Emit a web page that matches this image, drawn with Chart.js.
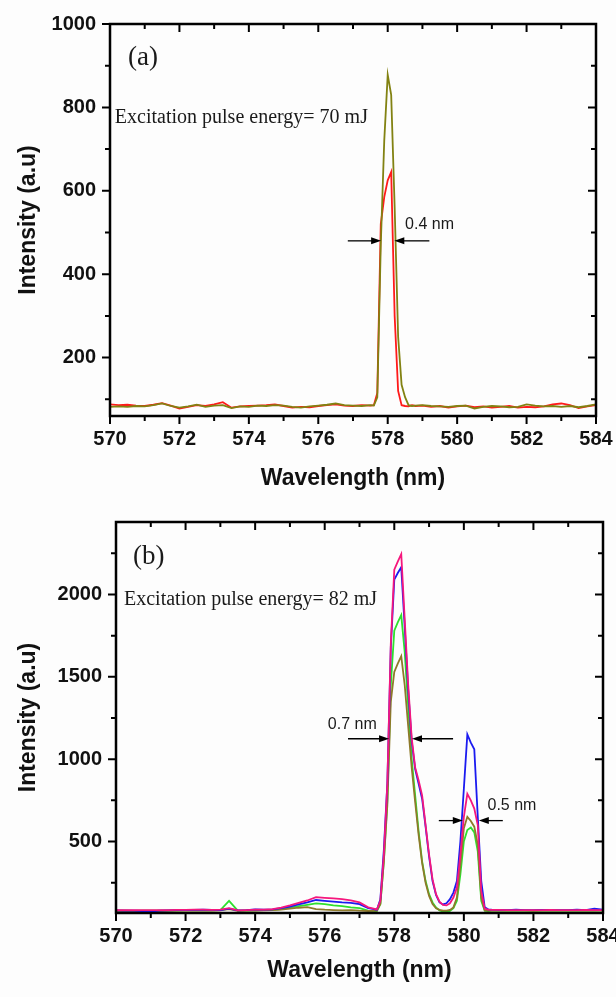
<!DOCTYPE html>
<html>
<head>
<meta charset="utf-8">
<title>Emission spectra</title>
<script src="https://cdn.jsdelivr.net/npm/chart.js@4.4.1/dist/chart.umd.min.js"></script>
<style>
  html, body { margin: 0; padding: 0; background: #fdfdfd; }
  #wrap { position: relative; width: 616px; height: 997px; }
  canvas { position: absolute; left: 0; }
  #spectrumA { top: 0; }
  #spectrumB { top: 498px; }
</style>
</head>
<body>
<div id="wrap">
  <canvas id="spectrumA" width="616" height="498"></canvas>
  <canvas id="spectrumB" width="616" height="499"></canvas>
</div>
<script>
// (a) 70 mJ pump
const wavelengthA = [570, 570.25, 570.5, 570.75, 571, 571.25, 571.5, 571.75, 572, 572.25, 572.5, 572.75,
  573, 573.25, 573.5, 573.75, 574, 574.25, 574.5, 574.75, 575, 575.25, 575.5, 575.75, 576, 576.25,
  576.5, 576.75, 577, 577.25, 577.5,
  577.6, 577.7, 577.8, 577.9, 578, 578.1, 578.2, 578.3, 578.4, 578.5, 578.6, 578.7, 578.8,
  579, 579.25, 579.5, 579.75, 580, 580.25, 580.5, 580.75, 581, 581.25, 581.5, 581.75, 582, 582.25,
  582.5, 582.75, 583, 583.25, 583.5, 583.75, 584];
const red70 = [88, 86, 87, 85, 84, 87, 91, 85, 78, 82, 86, 84, 88, 93, 80, 83, 84, 85, 86, 88,
  84, 80, 82, 81, 84, 86, 88, 85, 84, 86, 85,
  86, 115, 520, 585, 625, 645, 300, 120, 86, 84, 83, 86, 84,
  85, 82, 84, 80, 83, 85, 81, 83, 80, 82, 84, 80, 82, 81, 83, 88, 90, 86, 79, 83, 86];
const olive70 = [82, 83, 82, 84, 83, 86, 90, 84, 80, 83, 87, 82, 85, 86, 79, 83, 82, 85, 84, 86,
  85, 82, 80, 83, 85, 87, 90, 86, 85, 84, 86,
  85, 105, 470, 720, 878, 830, 560, 250, 135, 105, 86, 84, 85,
  86, 84, 83, 82, 84, 85, 78, 82, 84, 83, 81, 82, 88, 85, 83, 84, 82, 84, 81, 84, 88];

// (b) 82 mJ pump
const wavelengthB = [570, 570.25, 570.5, 570.75, 571, 571.25, 571.5, 571.75, 572, 572.25, 572.5, 572.75,
  573, 573.25, 573.5, 573.75, 574, 574.25, 574.5, 574.75, 575, 575.25, 575.5, 575.75, 576, 576.25,
  576.5, 576.75, 577, 577.25, 577.5,
  577.6, 577.7, 577.8, 577.9, 578, 578.1, 578.2, 578.3, 578.4, 578.5, 578.6, 578.7, 578.8, 578.9,
  579, 579.1, 579.2, 579.3, 579.4, 579.5, 579.6, 579.7, 579.8, 579.9, 580, 580.1, 580.2, 580.3,
  580.4, 580.5, 580.6, 580.7, 580.8,
  581, 581.25, 581.5, 581.75, 582, 582.25, 582.5, 582.75, 583, 583.25, 583.5, 583.75, 584];
const pink82 = [84, 84, 83, 84, 83, 84, 84, 85, 85, 86, 86, 85, 86, 95, 82, 84, 86, 87, 90, 98,
  112, 128, 142, 162, 158, 155, 150, 143, 130, 100, 88,
  140, 420, 850, 1700, 2150, 2200, 2245, 1850, 1450, 1130, 950, 870, 780, 600, 420, 270, 180, 135,
  115, 112, 125, 160, 220, 420, 650, 790, 750, 700, 600, 200, 92, 86, 85,
  85, 84, 83, 84, 83, 84, 85, 84, 83, 84, 85, 84, 84];
const blue82 = [82, 81, 80, 78, 75, 80, 82, 83, 84, 85, 86, 85, 84, 92, 82, 84, 88, 87, 88, 95,
  105, 118, 130, 145, 140, 135, 130, 127, 120, 95, 86,
  150, 450, 850, 1680, 2090, 2130, 2165, 1800, 1420, 1110, 940, 850, 760, 590, 410, 260, 175, 130,
  118, 125, 150, 190, 260, 500, 820, 1150, 1100, 1060, 650, 260, 100, 88, 86,
  85, 84, 86, 84, 83, 85, 84, 83, 84, 86, 84, 92, 86];
const green82 = [80, 80, 79, 80, 81, 80, 80, 81, 82, 82, 83, 82, 84, 140, 80, 80, 82, 83, 85, 90,
  98, 108, 116, 125, 120, 112, 108, 100, 95, 80, 78,
  120, 380, 750, 1450, 1780, 1830, 1875, 1650, 1320, 1000, 780, 560, 380, 260, 180, 130, 100, 82,
  74, 72, 78, 95, 140, 300, 500, 570, 585, 555, 440, 140, 80, 78, 80,
  80, 81, 80, 81, 80, 82, 81, 80, 81, 82, 80, 81, 82];
const olive82 = [78, 78, 77, 78, 79, 78, 79, 80, 80, 81, 82, 81, 82, 90, 79, 80, 81, 82, 83, 86,
  92, 98, 102, 90, 86, 84, 82, 84, 80, 78, 80,
  120, 380, 720, 1350, 1530, 1580, 1625, 1450, 1200, 950, 740, 540, 370, 250, 170, 120, 95, 85,
  80, 80, 85, 100, 160, 360, 580, 650, 625, 590, 480, 160, 82, 80, 80,
  80, 81, 80, 80, 79, 80, 81, 80, 80, 81, 80, 80, 81];

// axis ticks
const xTicks = [570, 572, 574, 576, 578, 580, 582, 584];
const xMinor = [571, 573, 575, 577, 579, 581, 583];
const yTicksA = [200, 400, 600, 800, 1000];
const yMinorA = [100, 300, 500, 700, 900];
const yTicksB = [500, 1000, 1500, 2000];
const yMinorB = [250, 750, 1250, 1750, 2250];

const sans = '"Liberation Sans", Arial, sans-serif';
const serif = '"Liberation Serif", "Times New Roman", serif';

const pts = (xs, ys) => xs.map((x, i) => ({ x, y: ys[i] }));

// box frame with outward ticks on left/bottom and inward mirrored ticks on top/right
const frameTicks = {
  id: 'frameTicks',
  afterDraw(chart, args, o) {
    const { ctx, chartArea: a, scales: { x, y } } = chart;
    ctx.save();
    ctx.strokeStyle = '#000';
    ctx.lineWidth = 2;
    const xt = (v, len) => {
      const p = x.getPixelForValue(v);
      ctx.moveTo(p, a.bottom); ctx.lineTo(p, a.bottom + len);
      ctx.moveTo(p, a.top); ctx.lineTo(p, a.top + len);
    };
    const yt = (v, len) => {
      const p = y.getPixelForValue(v);
      ctx.moveTo(a.left, p); ctx.lineTo(a.left - len, p);
      ctx.moveTo(a.right, p); ctx.lineTo(a.right - len, p);
    };
    ctx.beginPath();
    o.xMajor.forEach(v => xt(v, 8));
    o.xMinor.forEach(v => xt(v, 5));
    o.yMajor.forEach(v => yt(v, 8));
    o.yMinor.forEach(v => yt(v, 5));
    ctx.stroke();
    ctx.lineWidth = 2.5;
    ctx.strokeRect(a.left, a.top, a.right - a.left, a.bottom - a.top);
    ctx.restore();
  }
};

function arrow(ctx, fromX, toX, y) {
  const dir = Math.sign(toX - fromX);
  ctx.beginPath();
  ctx.moveTo(fromX, y);
  ctx.lineTo(toX - dir * 8, y);
  ctx.stroke();
  ctx.beginPath();
  ctx.moveTo(toX, y);
  ctx.lineTo(toX - dir * 10, y - 3.5);
  ctx.lineTo(toX - dir * 10, y + 3.5);
  ctx.closePath();
  ctx.fill();
}

// panel letters, pump energy and linewidth markers
const notes = {
  id: 'notes',
  afterDatasetsDraw(chart, args, o) {
    const { ctx, scales: { x, y } } = chart;
    ctx.save();
    ctx.textBaseline = 'middle';
    o.labels.forEach(l => {
      ctx.font = l.font;
      ctx.fillStyle = '#1a1a1a';
      ctx.fillText(l.text, x.getPixelForValue(l.x), y.getPixelForValue(l.y));
    });
    ctx.fillStyle = '#000';
    ctx.strokeStyle = '#000';
    ctx.lineWidth = 1.3;
    o.arrows.forEach(r => {
      const py = y.getPixelForValue(r.y);
      arrow(ctx, x.getPixelForValue(r.left[0]), x.getPixelForValue(r.left[1]), py);
      arrow(ctx, x.getPixelForValue(r.right[0]), x.getPixelForValue(r.right[1]), py);
    });
    ctx.restore();
  }
};

function spectrum(id, cfg) {
  return new Chart(document.getElementById(id), {
    type: 'line',
    data: {
      datasets: cfg.series.map(s => ({
        data: pts(cfg.wavelength, s.values),
        borderColor: s.color,
        borderWidth: 1.8,
        pointRadius: 0,
        tension: 0
      }))
    },
    options: {
      responsive: false,
      animation: false,
      devicePixelRatio: 1,
      layout: { padding: { top: 24, right: cfg.padRight, left: 0, bottom: 0 } },
      plugins: {
        legend: { display: false },
        tooltip: { enabled: false },
        frameTicks: { xMajor: xTicks, xMinor: xMinor, yMajor: cfg.yTicks, yMinor: cfg.yMinor },
        notes: { labels: cfg.labels, arrows: cfg.arrows }
      },
      scales: {
        x: {
          type: 'linear',
          min: 570,
          max: 584,
          afterBuildTicks: ax => { ax.ticks = xTicks.map(v => ({ value: v })); },
          afterFit: ax => {
            ax.height = cfg.xAxisHeight;
            ax.paddingLeft = 0;
            ax.paddingRight = 0;
          },
          grid: { display: false, drawTicks: false },
          border: { display: false },
          ticks: {
            autoSkip: false, maxRotation: 0, padding: 11, color: '#111',
            font: { family: sans, size: 20, weight: 'bold' },
            callback: v => String(v)
          },
          title: {
            display: true,
            text: 'Wavelength (nm)',
            color: '#111',
            font: { family: sans, size: 23, weight: 'bold' },
            padding: { top: 0, bottom: cfg.xTitlePad }
          }
        },
        y: {
          min: cfg.yMin,
          max: cfg.yMax,
          afterBuildTicks: ax => { ax.ticks = cfg.yTicks.map(v => ({ value: v })); },
          afterFit: ax => {
            ax.width = cfg.yAxisWidth;
            ax.paddingTop = 0;
            ax.paddingBottom = 0;
          },
          grid: { display: false, drawTicks: false },
          border: { display: false },
          ticks: {
            autoSkip: false, padding: 14, color: '#111',
            font: { family: sans, size: 20, weight: 'bold' },
            callback: v => String(v)
          },
          title: {
            display: true,
            text: 'Intensity (a.u)',
            color: '#111',
            font: { family: sans, size: 23, weight: 'bold' },
            padding: { top: 15, bottom: 0 }
          }
        }
      }
    },
    plugins: [frameTicks, notes]
  });
}

spectrum('spectrumA', {
  wavelength: wavelengthA,
  series: [
    { values: olive70, color: '#828212' },
    { values: red70, color: '#ff1a1a' }
  ],
  yMin: 60, yMax: 1000,
  yTicks: yTicksA, yMinor: yMinorA,
  padRight: 20, yAxisWidth: 110, xAxisHeight: 82, xTitlePad: 6,
  labels: [
    { text: '(a)', x: 570.52, y: 919, font: '27px ' + serif },
    { text: 'Excitation pulse energy= 70 mJ', x: 570.14, y: 774, font: '20px ' + serif },
    { text: '0.4 nm', x: 578.5, y: 519, font: '16px ' + sans }
  ],
  arrows: [
    { y: 480, left: [576.85, 577.81], right: [579.2, 578.19] }
  ]
});

spectrum('spectrumB', {
  wavelength: wavelengthB,
  series: [
    { values: pink82, color: '#f5177d' },
    { values: blue82, color: '#1b1bf0' },
    { values: olive82, color: '#8e7a2a' },
    { values: green82, color: '#2ee02e' }
  ],
  yMin: 66, yMax: 2440,
  yTicks: yTicksB, yMinor: yMinorB,
  padRight: 13, yAxisWidth: 116, xAxisHeight: 84, xTitlePad: 13,
  labels: [
    { text: '(b)', x: 570.49, y: 2226, font: '27px ' + serif },
    { text: 'Excitation pulse energy= 82 mJ', x: 570.23, y: 1965, font: '20px ' + serif },
    { text: '0.7 nm', x: 576.09, y: 1208, font: '16px ' + sans },
    { text: '0.5 nm', x: 580.68, y: 716, font: '16px ' + sans }
  ],
  arrows: [
    { y: 1124, left: [576.67, 577.85], right: [579.69, 578.51] },
    { y: 627, left: [579.28, 579.97], right: [581.12, 580.43] }
  ]
});
</script>
</body>
</html>
